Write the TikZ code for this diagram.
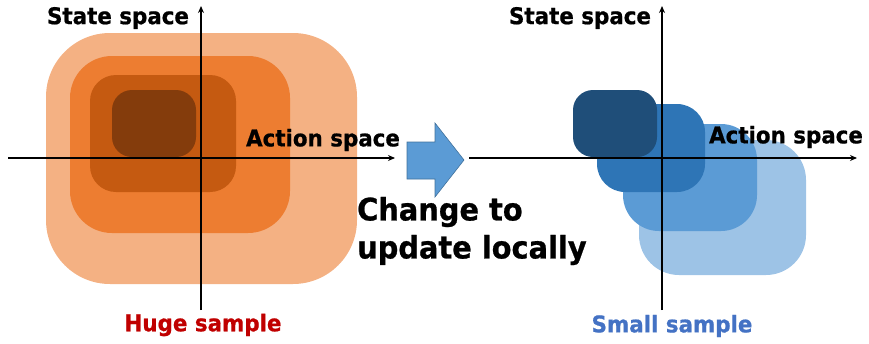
\documentclass[tikz,border=0pt]{standalone}
\usepackage{fontspec}
\setmainfont{DejaVu Sans}
\newfontfamily\labelfont{DejaVu Sans Bold}[FakeStretch=0.93, FakeBold=0.8]
\usetikzlibrary{arrows.meta}
\definecolor{orA}{HTML}{F4B183}
\definecolor{orB}{HTML}{ED7D31}
\definecolor{orC}{HTML}{C55A11}
\definecolor{orD}{HTML}{843C0C}
\definecolor{blA}{HTML}{9DC3E6}
\definecolor{blB}{HTML}{5B9BD5}
\definecolor{blC}{HTML}{2E75B6}
\definecolor{blD}{HTML}{1F4E79}
\definecolor{hugered}{HTML}{C00000}
\definecolor{smallblue}{HTML}{4472C4}
\definecolor{arrowedge}{HTML}{41719C}
\tikzset{
  axis/.style={line width=2.2pt, -{Stealth[length=7pt,width=6pt]}},
  axlabel/.style={font=\labelfont\fontsize{23}{26}\selectfont, inner sep=0pt},
  caption/.style={font=\labelfont\fontsize{23}{26}\selectfont, inner sep=0pt},
  bigtext/.style={font=\labelfont\fontsize{31}{38}\selectfont, inner sep=0pt, align=left}
}
\begin{document}
\begin{tikzpicture}[x=1pt,y=-1pt]
\useasboundingbox (0,0) rectangle (869,343);
% left: nested regions over the whole space
\fill[orA, rounded corners=64pt] (46,33) rectangle (357,284);
\fill[orB, rounded corners=42pt] (70,56) rectangle (290,233);
\fill[orC, rounded corners=26pt] (90,75) rectangle (236,192);
\fill[orD, rounded corners=20pt] (112,90) rectangle (196,157);
% left axes
\coordinate (l-xs) at (8,158);
\coordinate (l-xe) at (395,158);
\coordinate (l-ys) at (201,310);
\coordinate (l-ye) at (201,6);
\draw[axis] (l-xs) -- (l-xe);
\draw[axis] (l-ys) -- (l-ye);
\node[axlabel, anchor=center] (l-state) at (118,18) {State space};
\node[axlabel, anchor=center] (l-action) at (323,140) {Action space};
\node[caption, text=hugered] (huge) at (203,325) {Huge sample};
% block arrow between the panels
\fill[blB, draw=arrowedge, line width=0.6pt]
  (407,142) -- (435,142) -- (435,123) -- (464,160) -- (435,197) -- (435,179) -- (407,179) -- cycle;
\node[bigtext, anchor=west] (change) at (357,231) {Change to\\update locally};
% right: shifted local regions
\fill[blA, rounded corners=40pt] (639,140) rectangle (806,275);
\fill[blB, rounded corners=36pt] (623,124) rectangle (757,231);
\fill[blC, rounded corners=28pt] (597,104) rectangle (705,192);
\fill[blD, rounded corners=20pt] (573,90) rectangle (657,157);
% right axes
\coordinate (r-xs) at (469,158);
\coordinate (r-xe) at (857,158);
\coordinate (r-ys) at (662,310);
\coordinate (r-ye) at (662,6);
\draw[axis] (r-xs) -- (r-xe);
\draw[axis] (r-ys) -- (r-ye);
\node[axlabel, anchor=center] (r-state) at (580,18) {State space};
\node[axlabel, anchor=center] (r-action) at (786,137) {Action space};
\node[caption, text=smallblue] (small) at (672,326) {Small sample};
\end{tikzpicture}
\end{document}
